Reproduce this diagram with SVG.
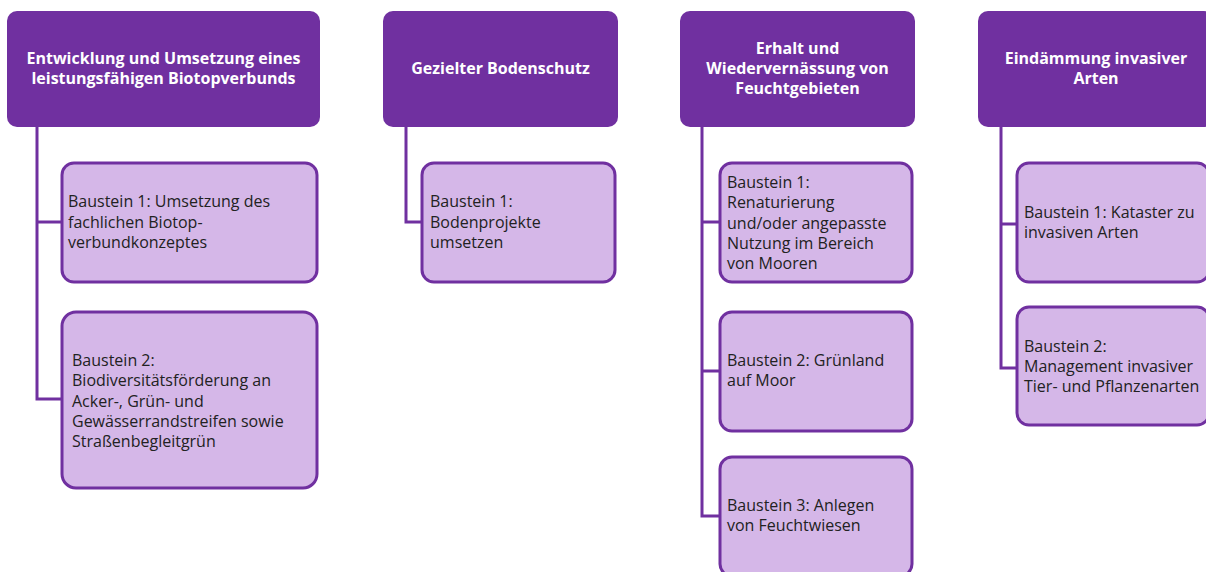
<svg xmlns="http://www.w3.org/2000/svg" width="1206" height="572" viewBox="0 0 1206 572">
<style>
.hd{fill:#7030A0;}
.ch{fill:#D5B7E8;stroke:#7030A0;stroke-width:3;}
.ht{font-family:"Open Sans","Liberation Sans",sans-serif;font-weight:bold;font-size:16px;fill:#FFFFFF;text-anchor:middle;}
.ct{font-family:"Open Sans","Liberation Sans",sans-serif;font-size:16px;fill:#222222;}
.cn{fill:none;stroke:#7030A0;stroke-width:3;}
</style>
<rect width="1206" height="572" fill="#FFFFFF"/>
<g id="connectors">
<path class="cn" d="M37,127 V399 H62 M37,222 H62"/>
<path class="cn" d="M406,127 V222 H422"/>
<path class="cn" d="M702,127 V516 H720 M702,222 H720 M702,371 H720"/>
<path class="cn" d="M1001,127 V368 H1017 M1001,224 H1017"/>
</g>
<g id="h1"><rect class="hd" x="7" y="11" width="313" height="116" rx="10"/>
<text class="ht" x="163.5" y="64">Entwicklung und Umsetzung eines</text>
<text class="ht" x="163.5" y="84">leistungsfähigen Biotopverbunds</text></g>
<g id="h2"><rect class="hd" x="383" y="11" width="235" height="116" rx="10"/>
<text class="ht" x="500.5" y="74">Gezielter Bodenschutz</text></g>
<g id="h3"><rect class="hd" x="680" y="11" width="235" height="116" rx="10"/>
<text class="ht" x="797.5" y="54">Erhalt und</text>
<text class="ht" x="797.5" y="74">Wiedervernässung von</text>
<text class="ht" x="797.5" y="94">Feuchtgebieten</text></g>
<g id="h4"><rect class="hd" x="978" y="11" width="236" height="116" rx="10"/>
<text class="ht" x="1096" y="64">Eindämmung invasiver</text>
<text class="ht" x="1096" y="84">Arten</text></g>
<g id="c1a"><rect class="ch" x="62" y="163" width="255" height="119" rx="12"/>
<text class="ct" x="68" y="207">Baustein 1: Umsetzung des</text>
<text class="ct" x="68" y="228">fachlichen Biotop-</text>
<text class="ct" x="68" y="248">verbundkonzeptes</text></g>
<g id="c1b"><rect class="ch" x="62" y="312" width="255" height="176" rx="14"/>
<text class="ct" x="72" y="366">Baustein 2:</text>
<text class="ct" x="72" y="386">Biodiversitätsförderung an</text>
<text class="ct" x="72" y="407">Acker-, Grün- und</text>
<text class="ct" x="72" y="427">Gewässerrandstreifen sowie</text>
<text class="ct" x="72" y="447">Straßenbegleitgrün</text></g>
<g id="c2a"><rect class="ch" x="422" y="163" width="193" height="119" rx="12"/>
<text class="ct" x="430" y="207">Baustein 1:</text>
<text class="ct" x="430" y="228">Bodenprojekte</text>
<text class="ct" x="430" y="248">umsetzen</text></g>
<g id="c3a"><rect class="ch" x="720" y="163" width="192" height="119" rx="12"/>
<text class="ct" x="727" y="188">Baustein 1:</text>
<text class="ct" x="727" y="208">Renaturierung</text>
<text class="ct" x="727" y="229">und/oder angepasste</text>
<text class="ct" x="727" y="249">Nutzung im Bereich</text>
<text class="ct" x="727" y="269">von Mooren</text></g>
<g id="c3b"><rect class="ch" x="720" y="312" width="192" height="119" rx="12"/>
<text class="ct" x="727" y="366">Baustein 2: Grünland</text>
<text class="ct" x="727" y="386">auf Moor</text></g>
<g id="c3c"><rect class="ch" x="720" y="457" width="192" height="119" rx="12"/>
<text class="ct" x="727" y="511">Baustein 3: Anlegen</text>
<text class="ct" x="727" y="531">von Feuchtwiesen</text></g>
<g id="c4a"><rect class="ch" x="1017" y="163" width="192" height="119" rx="12"/>
<text class="ct" x="1024" y="218">Baustein 1: Kataster zu</text>
<text class="ct" x="1024" y="238">invasiven Arten</text></g>
<g id="c4b"><rect class="ch" x="1017" y="307" width="192" height="118" rx="12"/>
<text class="ct" x="1024" y="352">Baustein 2:</text>
<text class="ct" x="1024" y="372">Management invasiver</text>
<text class="ct" x="1024" y="392">Tier- und Pflanzenarten</text></g>
</svg>
